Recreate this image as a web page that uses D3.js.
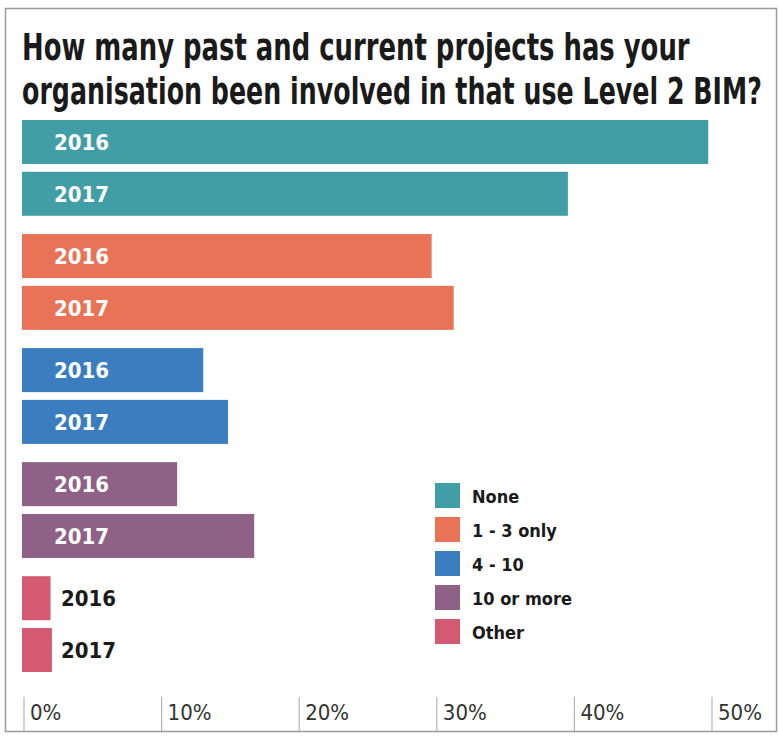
<!DOCTYPE html>
<html>
<head>
<meta charset="utf-8">
<script src="https://cdn.jsdelivr.net/npm/d3@7"></script>
<style>
  body { margin: 0; background: #fff; }
  svg { display: block; }
  .cond { font-family: "Liberation Sans Narrow", "DejaVu Sans Condensed", "Roboto", sans-serif; }
</style>
</head>
<body>
<div id="chart"></div>
<script>
(function() {
  var width = 779,
      height = 736;

  var categories = ["None", "1 - 3 only", "4 - 10", "10 or more", "Other"];
  var years = ["2016", "2017"];
  var values2016 = [49.8, 29.7, 13.1, 11.2, 2.0];
  var values2017 = [39.6, 31.3, 14.9, 16.8, 2.1];
  var colors = ["#419ea6", "#e97356", "#3a7ebf", "#8f6187", "#d45a72"];
  var tickValues = [0, 10, 20, 30, 40, 50];
  var titleLines = ["How many past and current projects has your",
                    "organisation been involved in that use Level 2 BIM?"];

  var svg = d3.select("#chart")
    .append("svg")
    .attr("width", width)
    .attr("height", height);

  // frame
  svg.append("rect")
    .attr("x", 5.5).attr("y", 8.5)
    .attr("width", 771).attr("height", 723)
    .attr("fill", "none")
    .attr("stroke", "#9a9a9a")
    .attr("stroke-width", 1.5);

  // title: squeeze each line to the width it has in the original
  var titleWidths = [668, 740];
  svg.selectAll(".title")
    .data(titleLines)
    .enter().append("text")
    .attr("class", "title cond")
    .style("font-size", "37px")
    .style("font-weight", "bold")
    .style("fill", "#1a1a1a")
    .text(function(d) { return d; })
    .attr("transform", function(d, i) {
      var w = this.getComputedTextLength();
      var sx = titleWidths[i] / w;
      return "translate(22," + (60 + i * 44) + ") scale(" + sx + ",1)";
    });

  var x = d3.scaleLinear()
    .domain([0, 50])
    .range([23, 711]);

  var yGroup = d3.scaleBand()
    .domain(categories)
    .range([120, 672])
    .paddingInner(0.16);

  var yYear = d3.scaleBand()
    .domain(years)
    .range([0, yGroup.bandwidth()])
    .paddingInner(0.15);

  var rows = [];
  categories.forEach(function(c, i) {
    rows.push({cat: c, year: "2016", value: values2016[i], color: colors[i]});
    rows.push({cat: c, year: "2017", value: values2017[i], color: colors[i]});
  });

  var bars = svg.append("g").attr("class", "bars");

  bars.selectAll("rect")
    .data(rows)
    .enter().append("rect")
    .attr("x", x(0) - 1)
    .attr("y", function(d) { return yGroup(d.cat) + yYear(d.year); })
    .attr("width", function(d) { return x(d.value) - x(0) + 1; })
    .attr("height", yYear.bandwidth())
    .attr("fill", function(d) { return d.color; });

  bars.selectAll("text")
    .data(rows)
    .enter().append("text")
    .attr("class", "cond")
    .attr("x", function(d) { return d.cat === "Other" ? 61 : 54; })
    .attr("y", function(d) { return yGroup(d.cat) + yYear(d.year) + yYear.bandwidth() / 2; })
    .attr("dy", "0.36em")
    .style("font-size", "22px")
    .style("font-weight", "bold")
    .style("fill", function(d) { return d.cat === "Other" ? "#1a1a1a" : "#fff"; })
    .text(function(d) { return d.year; });

  // legend
  var legend = svg.append("g")
    .attr("transform", "translate(435,483)");

  var items = legend.selectAll("g")
    .data(categories)
    .enter().append("g")
    .attr("transform", function(d, i) { return "translate(0," + i * 34 + ")"; });

  items.append("rect")
    .attr("width", 25)
    .attr("height", 25)
    .attr("fill", function(d, i) { return colors[i]; });

  items.append("text")
    .attr("class", "cond")
    .attr("x", 37)
    .attr("y", 13)
    .attr("dy", "0.38em")
    .style("font-size", "18px")
    .style("font-weight", "bold")
    .style("fill", "#1a1a1a")
    .text(function(d) { return d; });

  // axis
  var axis = svg.append("g").attr("class", "axis");

  axis.selectAll("line")
    .data(tickValues)
    .enter().append("line")
    .attr("x1", function(d) { return x(d) + 1; })
    .attr("x2", function(d) { return x(d) + 1; })
    .attr("y1", 697)
    .attr("y2", 731)
    .attr("stroke", "#b5b5b5")
    .attr("stroke-width", 1.2);

  axis.selectAll("text")
    .data(tickValues)
    .enter().append("text")
    .attr("class", "cond")
    .attr("x", function(d) { return x(d) + 7; })
    .attr("y", 720)
    .style("font-size", "22px")
    .style("fill", "#333")
    .text(function(d) { return d + "%"; });
})();
</script>
</body>
</html>
